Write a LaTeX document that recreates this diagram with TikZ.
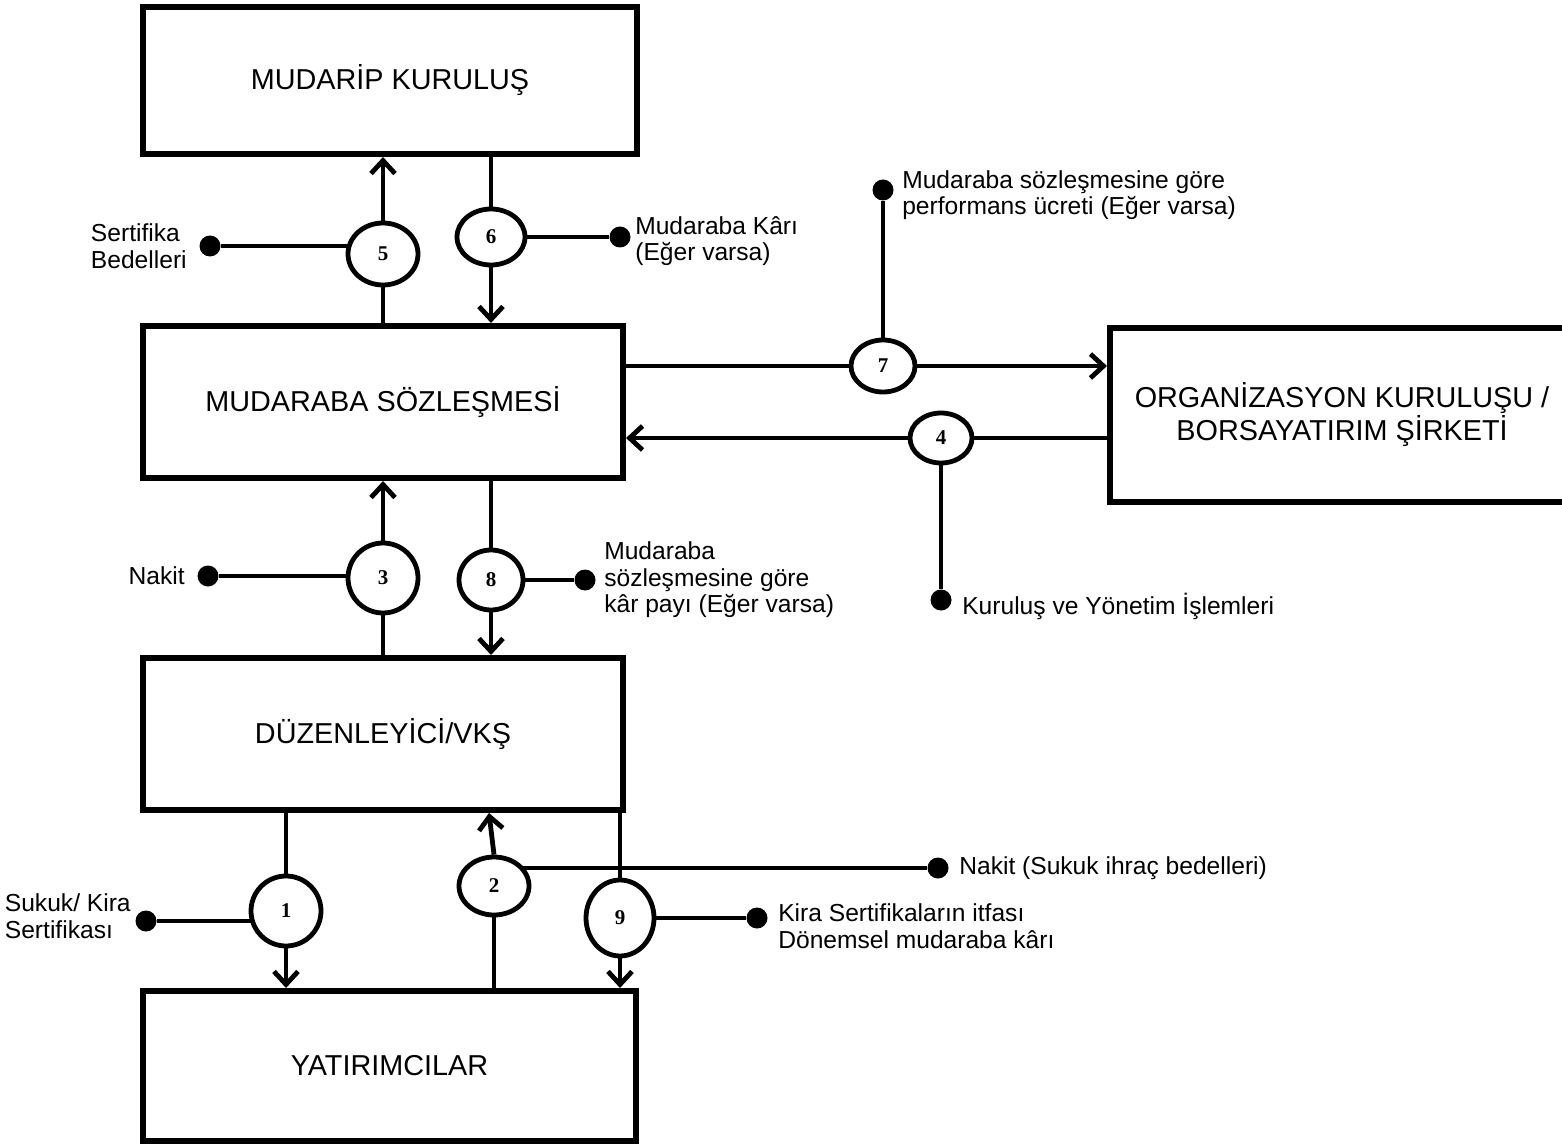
\documentclass[tikz,border=0pt]{standalone}
\usepackage{fontspec}
\setmainfont{Liberation Sans}
\newfontfamily\numfont{Liberation Serif}
\usetikzlibrary{arrows.meta,shapes.geometric,backgrounds}
\begin{document}
\begin{tikzpicture}[x=0.5pt,y=-0.5pt,
  box/.style={draw,line width=3pt,rectangle,inner sep=0pt,align=center,
    font=\fontsize{14.4}{16.5}\selectfont},
  num/.style={draw,line width=2.4pt,ellipse,inner sep=0pt,fill=white,
    font=\numfont\bfseries\fontsize{10.5}{11}\selectfont},
  flow/.style={line width=2.4pt},
  arr/.style={line width=2.4pt,-{Straight Barb[length=6.5pt,width=12pt]}},
  dot/.style={circle,fill=black,inner sep=0pt,minimum size=10.5pt},
  lbl/.style={align=left,inner sep=0pt,font=\fontsize{12.3}{13.3}\selectfont}
]
\useasboundingbox (0,0) rectangle (1562,1144);
\clip (0,0) rectangle (1562,1144);

% main parties
\node[box,minimum width=247pt,minimum height=73.5pt] (b1) at (390,80.5) {MUDAR\.{I}P KURULU\c{S}};
\node[box,minimum width=240pt,minimum height=76pt] (b2) at (383,402) {MUDARABA S\"OZLE\c{S}MES\.{I}};
\node[box,minimum width=240pt,minimum height=76pt] (b3) at (383,734) {D\"UZENLEY\.{I}C\.{I}/VK\c{S}};
\node[box,minimum width=246.5pt,minimum height=75pt] (b4) at (389.5,1066) {YATIRIMCILAR};
\node[box,minimum width=232pt,minimum height=87pt] (b5) at (1342,415) {ORGAN\.{I}ZASYON KURULU\c{S}U /\\BORSAYATIRIM \c{S}\.{I}RKET\.{I}};

% numbered steps
\node[num,minimum width=35pt,minimum height=35pt] (c1) at (286,911) {1};
\node[num,minimum width=35pt,minimum height=29pt] (c2) at (494,886) {2};
\node[num,minimum width=35pt,minimum height=35pt] (c3) at (383,578) {3};
\node[num,minimum width=31pt,minimum height=25pt] (c4) at (941,438) {4};
\node[num,minimum width=35pt,minimum height=31pt] (c5) at (383,254) {5};
\node[num,minimum width=34pt,minimum height=28pt] (c6) at (491,237) {6};
\node[num,minimum width=32pt,minimum height=26pt] (c7) at (883,366) {7};
\node[num,minimum width=32pt,minimum height=30pt] (c8) at (491,580) {8};
\node[num,minimum width=34pt,minimum height=38pt] (c9) at (620,918) {9};

% end points of the side flows
\node[dot] (d1) at (146,921) {};
\node[dot] (d2) at (938,868) {};
\node[dot] (d3) at (208,576) {};
\node[dot] (d4) at (941,600) {};
\node[dot] (d5) at (210,246) {};
\node[dot] (d6) at (620,237) {};
\node[dot] (d7) at (883,190) {};
\node[dot] (d8) at (585,580) {};
\node[dot] (d9) at (757,918) {};

% side flow labels
\node[lbl,anchor=east] at ([xshift=-6pt]d5.west) {Sertifika\\Bedelleri};
\node[lbl,anchor=west] at ([xshift=2pt,yshift=-2pt]d6.east) {Mudaraba K\^ar\i\\(E\u{g}er varsa)};
\node[lbl,anchor=west] at ([xshift=4pt,yshift=-2.5pt]d7.east) {Mudaraba s\"ozle\c{s}mesine g\"ore\\performans \"ucreti (E\u{g}er varsa)};
\node[lbl,anchor=west] at ([xshift=5pt,yshift=-3pt]d4.east) {Kurulu\c{s} ve Y\"onetim \.{I}\c{s}lemleri};
\node[lbl,anchor=east] at ([xshift=-6pt]d3.west) {Nakit};
\node[lbl,anchor=west] at ([xshift=4pt]d8.east) {Mudaraba\\s\"ozle\c{s}mesine g\"ore\\k\^ar pay\i{} (E\u{g}er varsa)};
\node[lbl,anchor=east] at ([xshift=-2pt,yshift=2.5pt]d1.west) {Sukuk/ Kira\\Sertifikas\i};
\node[lbl,anchor=west] at ([xshift=5pt]d2.east) {Nakit (Sukuk ihra\c{c} bedelleri)};
\node[lbl,anchor=west] at ([xshift=5pt,yshift=-4pt]d9.east) {Kira Sertifikalar\i n itfas\i\\D\"onemsel mudaraba k\^ar\i};

\begin{scope}[on background layer]
  % 5: certificate proceeds to the mudarib
  \draw[flow] (d5) -- (d5 -| c5);
  \draw[flow] (c5 |- b2.north) -- (c5);
  \draw[arr] (c5) -- (c5 |- b1.south);
  % 6: mudaraba profit
  \draw[flow] (c6 |- b1.south) -- (c6);
  \draw[arr] (c6) -- (c6 |- b2.north);
  \draw[flow] (c6) -- (d6);
  % 7: performance fee
  \draw[flow] (b2.east |- c7) -- (c7);
  \draw[arr] (c7) -- (c7 -| b5.west);
  \draw[flow] (c7) -- (d7);
  % 4: setup and management
  \draw[flow] (b5.west |- c4) -- (c4);
  \draw[arr] (c4) -- (c4 -| b2.east);
  \draw[flow] (c4) -- (d4);
  % 3: cash
  \draw[flow] (d3) -- (d3 -| c3);
  \draw[arr] (c3) -- (c3 |- b2.south);
  \draw[flow] (c3) -- (c3 |- b3.north);
  % 8: profit share
  \draw[flow] (c8 |- b2.south) -- (c8);
  \draw[arr] (c8) -- (c8 |- b3.north);
  \draw[flow] (c8) -- (d8);
  % 1: sukuk certificates
  \draw[flow] (c1 |- b3.south) -- (c1);
  \draw[arr] (c1) -- (c1 |- b4.north);
  \draw[flow] (d1) -- (d1 -| c1);
  % 2: issue proceeds
  \draw[flow] (c2 |- b4.north) -- (c2);
  \draw[arr] (c2.north) -- ([xshift=-2.5pt]c2.north |- b3.south);
  \draw[flow] (d2 -| c2) -- (d2);
  % 9: redemption and periodic profit
  \draw[flow] (c9 |- b3.south) -- (c9);
  \draw[arr] (c9) -- (c9 |- b4.north);
  \draw[flow] (c9) -- (d9);
\end{scope}
\end{tikzpicture}
\end{document}
